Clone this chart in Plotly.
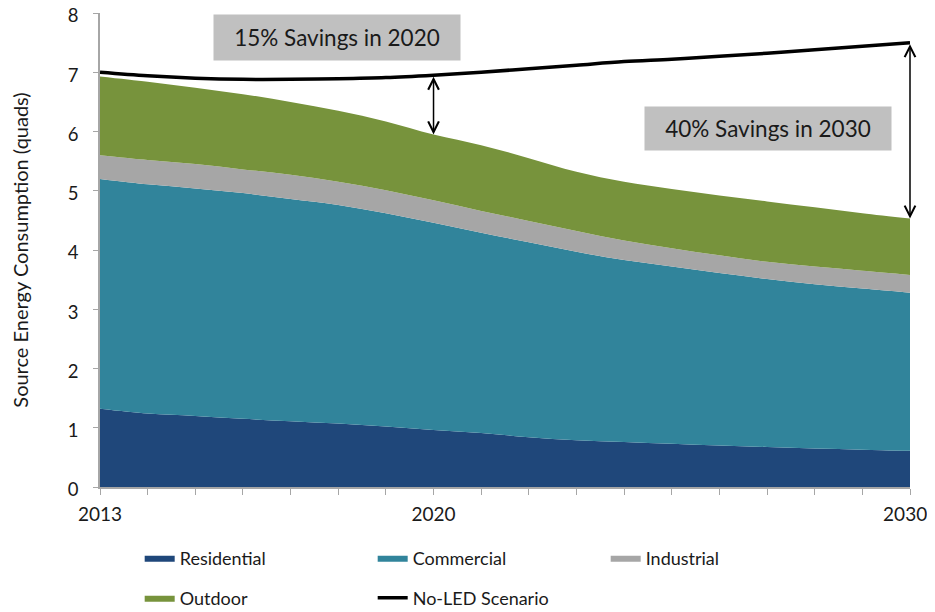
import plotly.graph_objects as go

years = list(range(2013, 2031))
residential = [1.32, 1.24, 1.20, 1.15, 1.11, 1.07, 1.02, 0.96, 0.91, 0.84, 0.79, 0.76, 0.73, 0.70, 0.675, 0.65, 0.63, 0.61]
commercial = [3.88, 3.87, 3.84, 3.81, 3.75, 3.69, 3.60, 3.50, 3.38, 3.29, 3.18, 3.07, 2.99, 2.91, 2.835, 2.77, 2.72, 2.67]
industrial = [0.40, 0.41, 0.41, 0.40, 0.41, 0.39, 0.39, 0.38, 0.37, 0.36, 0.35, 0.33, 0.31, 0.30, 0.29, 0.30, 0.30, 0.30]
outdoor = [1.33, 1.32, 1.29, 1.27, 1.23, 1.20, 1.16, 1.11, 1.11, 1.06, 1.00, 0.99, 1.00, 1.01, 1.02, 1.00, 0.97, 0.95]
no_led = [7.00, 6.94, 6.90, 6.88, 6.88, 6.89, 6.91, 6.95, 7.00, 7.06, 7.12, 7.18, 7.22, 7.27, 7.32, 7.38, 7.44, 7.50]

x_tick_values = [2013, 2020, 2030]
x_tick_text = ["2013", "2020", "2030&nbsp;&nbsp;"]  # last label nudged left so it stays inside the page
savings_labels = ["15% Savings in 2020", "40% Savings in 2030"]
savings_years = [2020, 2030]

FONT = "Lato"
colors = {"Residential": "#1F477A", "Commercial": "#31849B", "Industrial": "#A6A6A6", "Outdoor": "#77933C"}

# page body has an 8px margin; the figure starts at (8, 8) in the window
W, H = 927, 604

fig = go.Figure()
series = [("Residential", residential, "legend"), ("Commercial", commercial, "legend"),
          ("Industrial", industrial, "legend"), ("Outdoor", outdoor, "legend2")]
for name, vals, lg in series:
    fig.add_trace(go.Scatter(
        x=years, y=vals, name=name, stackgroup="one", mode="lines",
        line=dict(width=0, shape="spline", color=colors[name]),
        fillcolor=colors[name], legend=lg, hoverinfo="x+y+name"))

fig.add_trace(go.Scatter(x=years, y=no_led, name="No-LED Scenario", mode="lines",
                         line=dict(color="black", width=3.5, shape="spline"), legend="legend2"))

totals = [r + c + i + o for r, c, i, o in zip(residential, commercial, industrial, outdoor)]
for yr in savings_years:
    idx = years.index(yr)
    fig.add_annotation(x=yr, y=totals[idx], ax=yr, ay=no_led[idx], axref="x", ayref="y",
                       xref="x", yref="y", showarrow=True, arrowhead=5, startarrowhead=5,
                       arrowside="end+start", arrowsize=1.4, startarrowsize=1.4,
                       arrowwidth=1.5, arrowcolor="black", text="")

fig.add_annotation(x=2017.97, y=7.59, xref="x", yref="y", text=savings_labels[0], showarrow=False,
                   bgcolor="#C0C0C0", width=246, height=45, borderpad=0,
                   font=dict(family=FONT, size=22.5, color="#1a1a1a"))
fig.add_annotation(x=2027.02, y=6.05, xref="x", yref="y", text=savings_labels[1], showarrow=False,
                   bgcolor="#C0C0C0", width=246, height=43, borderpad=0,
                   font=dict(family=FONT, size=22.5, color="#1a1a1a"))

fig.update_layout(
    width=W, height=H,
    margin=dict(l=92, r=25, t=5, b=125, autoexpand=False),
    paper_bgcolor="white", plot_bgcolor="white",
    font=dict(family=FONT, color="#1a1a1a"),
    xaxis=dict(range=[2013, 2030], tickvals=x_tick_values, ticktext=x_tick_text,
               ticks="outside", ticklen=6, tickcolor="#A6A6A6", showline=True, linecolor="#A6A6A6",
               linewidth=1.5, showgrid=False, zeroline=False, tickfont=dict(size=19, family=FONT),
               ticklabelstandoff=3, automargin=False, ticklabeloverflow="allow",
               minor=dict(dtick=1, tick0=2013, ticks="outside", ticklen=6, tickcolor="#A6A6A6", showgrid=False)),
    yaxis=dict(range=[0, 8], dtick=1, ticks="outside", ticklen=5, tickcolor="#A6A6A6", showline=True,
               linecolor="#A6A6A6", linewidth=1.5, showgrid=False, zeroline=False,
               tickfont=dict(size=18.5, family=FONT), ticklabelstandoff=11, automargin=False,
               ticklabeloverflow="allow", ticklabelshift=3,
               title=dict(text="Source Energy Consumption (quads)", font=dict(size=20, family=FONT), standoff=40)),
    legend=dict(orientation="h", x=0.049, xanchor="left", y=1 - 550 / H, yref="container", yanchor="middle",
                entrywidth=188, entrywidthmode="pixels", font=dict(size=18, family=FONT), traceorder="normal"),
    legend2=dict(orientation="h", x=0.049, xanchor="left", y=1 - 590 / H, yref="container", yanchor="middle",
                 entrywidth=188, entrywidthmode="pixels", font=dict(size=18, family=FONT), traceorder="normal"),
    showlegend=True,
)

fig.write_html("out.html")
